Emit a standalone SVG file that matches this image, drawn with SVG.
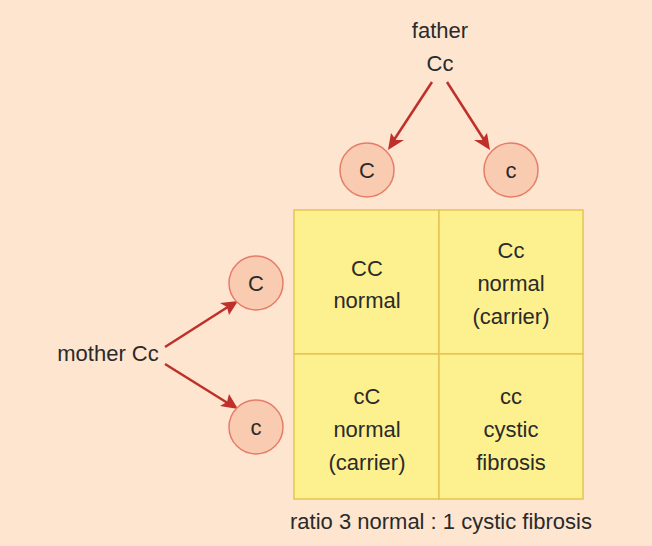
<svg xmlns="http://www.w3.org/2000/svg" width="652" height="546" viewBox="0 0 652 546">
<style>
text{font-family:"Liberation Sans",Arial,sans-serif;font-size:22px;fill:#2a2a2a;text-anchor:middle}
.g{fill:#f9cbb0;stroke:#e57d68;stroke-width:1.5}
.ln{stroke:#c0302a;stroke-width:2.5;fill:none}
.hd{fill:#c0302a}
.cell{fill:#fdf08f;stroke:#e6c452;stroke-width:1.5}
</style>
<rect width="652" height="546" fill="#fde5d0"/>
<g id="father"><text x="440" y="38">father</text><text x="440" y="71">Cc</text></g>
<g id="mother"><text x="108" y="361">mother Cc</text></g>
<g id="connectors">
<path class="ln" d="M432,82 L390,146"/>
<path class="ln" d="M447,82 L488,146"/>
<path class="ln" d="M165,347 L234,303"/>
<path class="ln" d="M165,364 L234,407"/>
<polygon class="hd" points="388,150 391,133 396,140 404,140"/>
<polygon class="hd" points="490,150 474,140 482,140 487,133"/>
<polygon class="hd" points="238,301 229,315 227,307 220,303"/>
<polygon class="hd" points="238,409 220,406 227,402 229,394"/>
</g>
<g id="gamete-f-C"><circle class="g" cx="367" cy="170" r="27"/><text x="367" y="178">C</text></g>
<g id="gamete-f-c"><circle class="g" cx="511" cy="170" r="27"/><text x="511" y="178">c</text></g>
<g id="gamete-m-C"><circle class="g" cx="256" cy="283" r="27"/><text x="256" y="291">C</text></g>
<g id="gamete-m-c"><circle class="g" cx="256" cy="427" r="27"/><text x="256" y="435">c</text></g>
<g id="cell-CC"><rect class="cell" x="294" y="210" width="145" height="144"/><text x="367" y="276">CC</text><text x="367" y="308">normal</text></g>
<g id="cell-Cc"><rect class="cell" x="439" y="210" width="144" height="144"/><text x="511" y="258">Cc</text><text x="511" y="291">normal</text><text x="511" y="324">(carrier)</text></g>
<g id="cell-cC"><rect class="cell" x="294" y="354" width="145" height="145"/><text x="367" y="404">cC</text><text x="367" y="437">normal</text><text x="367" y="470">(carrier)</text></g>
<g id="cell-cc"><rect class="cell" x="439" y="354" width="144" height="145"/><text x="511" y="404">cc</text><text x="511" y="437">cystic</text><text x="511" y="470">fibrosis</text></g>
<g id="ratio"><text x="441" y="529">ratio 3 normal : 1 cystic fibrosis</text></g>
</svg>
